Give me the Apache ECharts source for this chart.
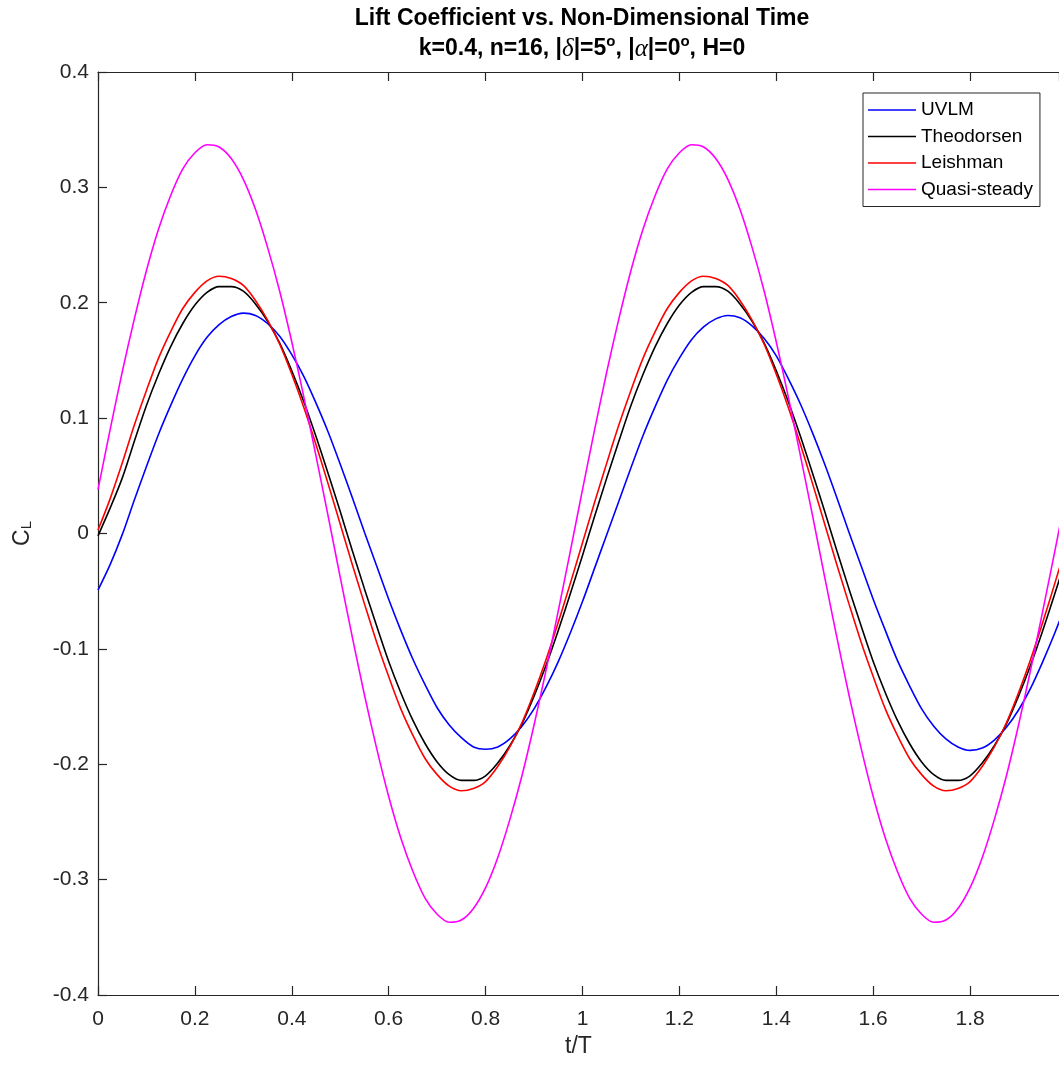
<!DOCTYPE html>
<html>
<head>
<meta charset="utf-8">
<script src="https://cdn.jsdelivr.net/npm/echarts@6/dist/echarts.min.js"></script>
<style>html,body{margin:0;padding:0;background:#fff;}#c{width:1059px;height:1065px;}</style>
</head>
<body>
<div id="c"></div>
<script>
// t/T samples (step 0.025)
const tValues = [0,0.025,0.05,0.075,0.1,0.125,0.15,0.175,0.2,0.225,0.25,0.275,0.3,0.325,0.35,0.375,0.4,0.425,0.45,0.475,
  0.5,0.525,0.55,0.575,0.6,0.625,0.65,0.675,0.7,0.725,0.75,0.775,0.8,0.825,0.85,0.875,0.9,0.925,0.95,0.975,
  1,1.025,1.05,1.075,1.1,1.125,1.15,1.175,1.2,1.225,1.25,1.275,1.3,1.325,1.35,1.375,1.4,1.425,1.45,1.475,
  1.5,1.525,1.55,1.575,1.6,1.625,1.65,1.675,1.7,1.725,1.75,1.775,1.8,1.825,1.85,1.875,1.9,1.925,1.95,1.975,2];

const uvlm = [-0.049,-0.027,-0.001,0.029,0.058,0.086,0.111,0.134,0.154,0.170,0.181,0.188,0.191,0.189,0.182,0.171,0.155,0.136,0.113,0.088,
  0.060,0.031,0.001,-0.028,-0.057,-0.084,-0.109,-0.131,-0.151,-0.166,-0.177,-0.185,-0.187,-0.185,-0.178,-0.167,-0.152,-0.133,-0.111,-0.086,
  -0.059,-0.030,-0.001,0.028,0.057,0.085,0.110,0.133,0.152,0.168,0.179,0.186,0.189,0.187,0.180,0.169,0.154,0.134,0.112,0.087,
  0.060,0.031,0.001,-0.028,-0.057,-0.084,-0.110,-0.132,-0.152,-0.167,-0.178,-0.185,-0.188,-0.186,-0.179,-0.168,-0.153,-0.134,-0.111,-0.086,-0.059];

const theodorsen = [-0.002,0.022,0.048,0.080,0.111,0.138,0.162,0.182,0.198,0.209,0.214,0.214,0.210,0.199,0.184,0.165,0.141,0.114,0.084,0.052,
  0.019,-0.015,-0.048,-0.080,-0.111,-0.138,-0.162,-0.182,-0.198,-0.209,-0.214,-0.214,-0.210,-0.199,-0.184,-0.165,-0.141,-0.114,-0.084,-0.052,
  -0.019,0.015,0.048,0.080,0.111,0.138,0.162,0.182,0.198,0.209,0.214,0.214,0.210,0.199,0.184,0.165,0.141,0.114,0.084,0.052,
  0.019,-0.015,-0.048,-0.080,-0.111,-0.138,-0.162,-0.182,-0.198,-0.209,-0.214,-0.214,-0.210,-0.199,-0.184,-0.165,-0.141,-0.114,-0.084,-0.052,-0.019];

const leishman = [0.003,0.030,0.061,0.094,0.124,0.152,0.175,0.195,0.209,0.219,0.223,0.221,0.215,0.202,0.185,0.164,0.138,0.109,0.077,0.043,
  0.008,-0.027,-0.061,-0.094,-0.124,-0.152,-0.175,-0.195,-0.209,-0.219,-0.223,-0.221,-0.215,-0.202,-0.185,-0.164,-0.138,-0.109,-0.077,-0.043,
  -0.008,0.027,0.061,0.094,0.124,0.152,0.175,0.195,0.209,0.219,0.223,0.221,0.215,0.202,0.185,0.164,0.138,0.109,0.077,0.043,
  0.008,-0.027,-0.061,-0.094,-0.124,-0.152,-0.175,-0.195,-0.209,-0.219,-0.223,-0.221,-0.215,-0.202,-0.185,-0.164,-0.138,-0.109,-0.077,-0.043,-0.008];

const quasiSteady = [0.038,0.090,0.140,0.186,0.228,0.264,0.293,0.316,0.330,0.337,0.335,0.325,0.307,0.281,0.248,0.210,0.166,0.118,0.067,0.015,
  -0.038,-0.090,-0.140,-0.186,-0.228,-0.264,-0.293,-0.316,-0.330,-0.337,-0.335,-0.325,-0.307,-0.281,-0.248,-0.210,-0.166,-0.118,-0.067,-0.015,
  0.038,0.090,0.140,0.186,0.228,0.264,0.293,0.316,0.330,0.337,0.335,0.325,0.307,0.281,0.248,0.210,0.166,0.118,0.067,0.015,
  -0.038,-0.090,-0.140,-0.186,-0.228,-0.264,-0.293,-0.316,-0.330,-0.337,-0.335,-0.325,-0.307,-0.281,-0.248,-0.210,-0.166,-0.118,-0.067,-0.015,0.038];

const seriesNames = ['UVLM','Theodorsen','Leishman','Quasi-steady'];
const seriesColors = ['#0000ff','#000000','#ff0000','#ff00ff'];
const seriesValues = [uvlm, theodorsen, leishman, quasiSteady];

const xMax = 1.9835; // visible right edge of the cropped figure
const axisColor = '#262626';
const font = 'Liberation Sans, Arial, Helvetica, sans-serif';

const chart = echarts.init(document.getElementById('c'), null, {renderer:'canvas'});

const series = seriesNames.map((n, i) => ({
  name: n,
  type: 'line',
  data: tValues.map((t, j) => [t, seriesValues[i][j]]),
  symbol: 'none',
  showSymbol: false,
  smooth: 0.3,
  lineStyle: {color: seriesColors[i], width: 1.6},
  itemStyle: {color: seriesColors[i]},
  z: 2 + i,
  animation: false
}));

const isTick = v => Math.abs(v * 5 - Math.round(v * 5)) < 1e-6;

const xBase = {
  type: 'value', min: 0, max: xMax, interval: 0.2,
  axisLine: {show: true, onZero: false, lineStyle: {color: axisColor, width: 1.2}},
  axisTick: {show: true, inside: true, length: 9, lineStyle: {color: axisColor, width: 1.2}},
  splitLine: {show: false}
};
const yBase = {
  type: 'value', min: -0.4, max: 0.4, interval: 0.1,
  axisLine: {show: true, onZero: false, lineStyle: {color: axisColor, width: 1.2}},
  axisTick: {show: true, inside: true, length: 9, lineStyle: {color: axisColor, width: 1.2}},
  splitLine: {show: false}
};

chart.setOption({
  animation: false,
  backgroundColor: '#ffffff',
  title: {
    left: 582,
    textAlign: 'center',
    top: 4,
    padding: 0,
    text: '{b|Lift Coefficient vs. Non-Dimensional Time}\n{b|k=0.4, n=16, |}{i|δ}{b||=5}{s|o}{b|, |}{i|α}{b||=0}{s|o}{b|, H=0}',
    textStyle: {
      fontFamily: font,
      fontSize: 23,
      fontWeight: 'bold',
      color: '#000',
      lineHeight: 30,
      rich: {
        b: {fontFamily: font, fontSize: 23, fontWeight: 'bold', color: '#000', lineHeight: 30},
        i: {fontFamily: 'Liberation Serif, DejaVu Serif, serif', fontStyle: 'italic', fontWeight: 'normal', fontSize: 25, color: '#000', lineHeight: 30},
        s: {fontFamily: font, fontSize: 15, fontWeight: 'bold', color: '#000', lineHeight: 30, verticalAlign: 'top', padding: [0, 0, 12, 0]}
      }
    }
  },
  legend: {
    orient: 'vertical',
    left: 863,
    top: 93,
    data: seriesNames,
    selectedMode: false,
    icon: 'rect',
    itemWidth: 48,
    itemHeight: 1.6,
    itemGap: 7.5,
    itemStyle: {borderWidth: 0},
    padding: [7.5, 7, 7.5, 5],
    borderColor: axisColor,
    borderWidth: 1,
    backgroundColor: '#ffffff',
    textStyle: {fontFamily: font, fontSize: 19, color: '#000', lineHeight: 19}
  },
  grid: {left: 98, right: 0, top: 72, bottom: 70, containLabel: false},
  xAxis: [
    Object.assign({}, xBase, {
      position: 'bottom',
      name: 't/T',
      nameLocation: 'middle',
      nameGap: 40,
      nameTextStyle: {fontFamily: font, fontSize: 23, color: axisColor},
      axisLabel: {show: true, fontFamily: font, fontSize: 21, color: axisColor, margin: 14,
        showMaxLabel: false,
        formatter: v => (isTick(v) ? String(+v.toFixed(1)) : '')}
    }),
    Object.assign({}, xBase, {position: 'top', axisLabel: {show: false}})
  ],
  yAxis: [
    Object.assign({}, yBase, {
      position: 'left',
      name: '{c|C}{s|L}',
      nameLocation: 'middle',
      nameGap: 58,
      nameRotate: 90,
      nameTextStyle: {
        fontFamily: font, color: axisColor,
        rich: {
          c: {fontFamily: font, fontSize: 23, color: axisColor, lineHeight: 23, verticalAlign: 'top', padding: [0, 0, 8, 0]},
          s: {fontFamily: font, fontSize: 15, color: axisColor, lineHeight: 15, verticalAlign: 'bottom'}
        }
      },
      axisLabel: {show: true, fontFamily: font, fontSize: 21, color: axisColor, margin: 9,
        formatter: v => String(+v.toFixed(1))}
    }),
    Object.assign({}, yBase, {position: 'right', axisLine: {show: false}, axisTick: {show: false}, axisLabel: {show: false}})
  ],
  series: series
});
</script>
</body>
</html>
